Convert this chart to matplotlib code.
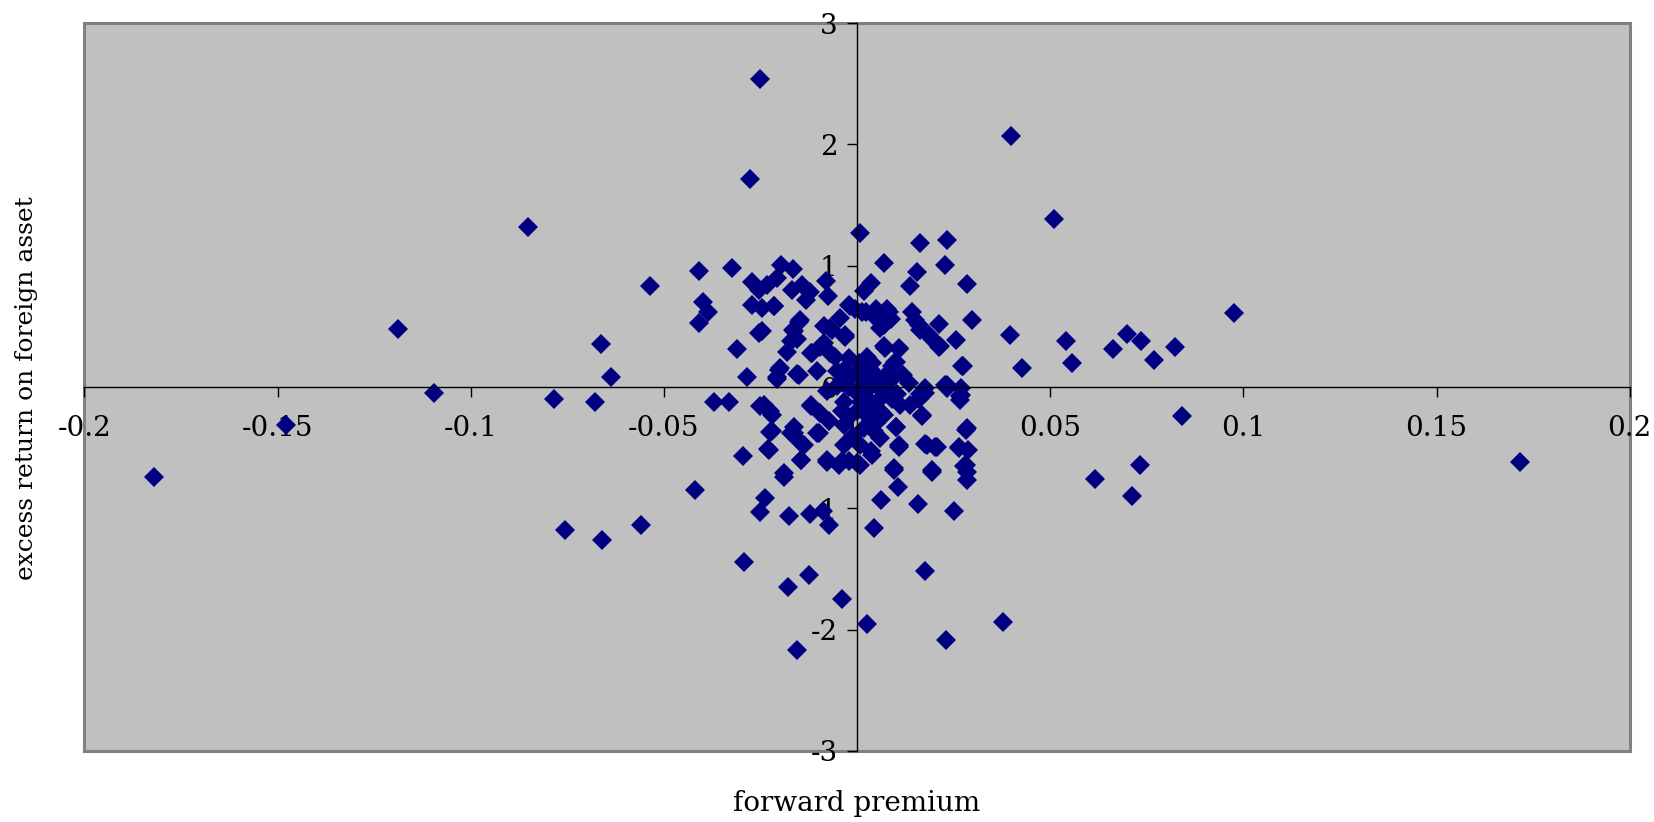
import matplotlib

matplotlib.use("Agg")
import matplotlib.pyplot as plt
import numpy as np

# forward premium (x) and excess return on foreign asset (y)
fwd_premium = [
    -0.1819, -0.1477, -0.1189, -0.1096, -0.0852, -0.0784, -0.0679, -0.0663, -0.0638, -0.0757,
    -0.0659, 0.0977, 0.0699, 0.0662, 0.0736, 0.0770, 0.0824, 0.0840, 0.0615, 0.0733,
    0.0712, 0.1717, 0.0378, 0.0230, 0.0176, 0.0026, -0.0039, -0.0155, -0.0124, -0.0178,
    -0.0293, -0.0559, -0.0419, -0.0239, -0.0252, -0.0175, -0.0122, -0.0088, -0.0073, 0.0044,
    0.0061, 0.0158, 0.0252, 0.0107, 0.0095, 0.0193, 0.0285, 0.0285, 0.0283, 0.0288,
    0.0264, 0.0283, 0.0201, 0.0177, 0.0108, 0.0101, 0.0169, 0.0266, 0.0039, 0.0000,
    -0.0038, -0.0077, -0.0144, -0.0188, -0.0296, -0.0230, -0.0224, -0.0250, -0.0221, -0.0332,
    -0.0371, -0.0172, -0.0164, -0.0138, -0.0103, -0.0120,
    -0.0252, -0.0277, 0.0399, 0.0509, 0.0007, 0.0162, 0.0233, 0.0229, 0.0069, 0.0285,
    0.0154, 0.0138, -0.0537, -0.0409, -0.0323, -0.0398, -0.0386, -0.0408, -0.0254, -0.0310,
    -0.0284, -0.0197, -0.0165, -0.0273, -0.0254, -0.0232, -0.0207, -0.0271, -0.0245, -0.0215,
    -0.0168, -0.0142, -0.0121, -0.0131, -0.0080, -0.0075, -0.0148, -0.0165, -0.0155, -0.0172,
    -0.0181, -0.0200, -0.0207, -0.0155, -0.0120, -0.0086, -0.0064, -0.0045, -0.0030, -0.0095,
    -0.0069, -0.0021, -0.0004, 0.0018, 0.0035, 0.0048, 0.0078, 0.0065, 0.0059, 0.0087,
    0.0143, 0.0151, 0.0162, 0.0212, 0.0298, 0.0195, 0.0212, 0.0255, 0.0275, 0.0395,
    0.0426, 0.0542, 0.0557, 0.0073, 0.0108, 0.0099, 0.0134, 0.0233, 0.0266, 0.0177,
    0.0160,
    -0.0216, -0.0017, 0.0022, -0.0069, -0.0030, -0.0151, -0.0164, -0.0245, -0.0116, -0.0086,
    -0.0056, -0.0021, 0.0005, -0.0202, -0.0206, -0.0150, -0.0103, -0.0051, -0.0012, 0.0017,
    -0.0035, 0.0082, 0.0048, 0.0069, 0.0013, 0.0160, 0.0186, 0.0216, 0.0272, 0.0069,
    0.0108, 0.0100, 0.0026, 0.0035, 0.0091, 0.0177, 0.0229, 0.0268,
    -0.0224, -0.0241, -0.0220, -0.0228, -0.0189, -0.0164, -0.0146, -0.0146, -0.0099, -0.0120,
    -0.0095, -0.0073, -0.0077, -0.0047, -0.0021, 0.0009, -0.0051, -0.0034, 0.0000, 0.0026,
    -0.0034, 0.0018, 0.0009, -0.0034, 0.0000, -0.0077, 0.0022, 0.0061, 0.0104, 0.0164,
    0.0138, 0.0233, 0.0268, 0.0169, 0.0100, 0.0044, 0.0035, 0.0108, 0.0182, 0.0208,
    0.0264, 0.0285, 0.0095, 0.0195, 0.0277, 0.0035, 0.0069, 0.0052,
    0.0000, 0.0020, 0.0040, 0.0060, 0.0080, -0.0020, 0.0010, 0.0030, -0.0020, 0.0050,
    0.0070, 0.0090, 0.0120, 0.0040, -0.0010, 0.0060,
    0.0020, 0.0060, 0.0080, -0.0030, 0.0110, 0.0040, 0.0090, -0.0040,
]
excess_return = [
    -0.745, -0.31, 0.48, -0.05, 1.32, -0.10, -0.12, 0.355, 0.087, -1.176,
    -1.26, 0.61, 0.437, 0.316, 0.38, 0.22, 0.33, -0.24, -0.756, -0.643,
    -0.90, -0.62, -1.94, -2.086, -1.52, -1.95, -1.75, -2.17, -1.55, -1.65,
    -1.44, -1.14, -0.85, -0.915, -1.03, -1.06, -1.05, -1.025, -1.14, -1.16,
    -0.93, -0.965, -1.025, -0.825, -0.68, -0.70, -0.765, -0.70, -0.64, -0.52,
    -0.49, -0.35, -0.49, -0.47, -0.49, -0.325, -0.23, -0.105, -0.56, -0.63,
    -0.61, -0.62, -0.60, -0.745, -0.57, -0.51, -0.37, -0.155, -0.23, -0.12,
    -0.12, -0.38, -0.33, -0.476, -0.38, -0.16,
    2.54, 1.715, 2.066, 1.385, 1.27, 1.187, 1.21, 1.01, 1.02, 0.85,
    0.95, 0.83, 0.835, 0.96, 0.98, 0.705, 0.62, 0.528, 0.445, 0.31,
    0.087, 1.01, 0.97, 0.87, 0.80, 0.84, 0.90, 0.68, 0.65, 0.67,
    0.80, 0.84, 0.78, 0.72, 0.876, 0.75, 0.555, 0.47, 0.40, 0.38,
    0.29, 0.155, 0.08, 0.11, 0.28, 0.505, 0.47, 0.57, 0.41, 0.33,
    0.28, 0.68, 0.64, 0.79, 0.86, 0.64, 0.64, 0.55, 0.49, 0.56,
    0.62, 0.55, 0.47, 0.52, 0.55, 0.40, 0.33, 0.39, 0.17, 0.43,
    0.16, 0.376, 0.20, 0.32, 0.32, 0.21, 0.03, 0.02, -0.07, -0.05,
    -0.10,
    0.665, 0.665, 0.62, 0.486, 0.43, 0.54, 0.46, 0.46, 0.28, 0.36,
    0.25, 0.24, 0.20, 0.14, 0.07, 0.10, 0.13, 0.13, 0.09, 0.05,
    0.035, 0.62, 0.57, 0.51, 0.62, 0.51, 0.43, 0.335, 0.17, 0.335,
    0.31, 0.21, 0.25, 0.14, 0.07, -0.01, 0.02, -0.01,
    -0.20, -0.146, -0.366, -0.517, -0.71, -0.38, -0.46, -0.60, -0.38, -0.146,
    -0.21, -0.28, -0.60, -0.64, -0.61, -0.64, 0.005, -0.12, -0.20, -0.09,
    -0.31, -0.34, -0.476, -0.476, -0.05, -0.036, -0.036, -0.02, -0.06, -0.06,
    -0.146, -0.01, -0.063, -0.24, -0.325, -0.366, -0.53, -0.476, -0.476, -0.49,
    -0.50, -0.34, -0.67, -0.68, -0.65, -0.20, -0.23, -0.12,
    0.10, 0.15, 0.10, 0.05, 0.12, 0.00, -0.12, -0.25, -0.25, -0.30,
    0.00, -0.10, 0.10, 0.20, -0.40, -0.42,
    -0.15, -0.20, -0.05, 0.15, -0.15, 0.05, 0.17, -0.20,
]

x_ticks = [-0.2, -0.15, -0.1, -0.05, 0, 0.05, 0.1, 0.15, 0.2]
x_labels = ["-0.2", "-0.15", "-0.1", "-0.05", "0", "0.05", "0.1", "0.15", "0.2"]
y_ticks = [-3, -2, -1, 0, 1, 2, 3]
y_labels = ["-3", "-2", "-1", "0", "1", "2", "3"]

plt.rcParams["font.family"] = ["DejaVu Serif"]

fig = plt.figure(figsize=(16.54, 8.22), dpi=100)
ax = fig.add_axes([0.051, 0.0864, 0.9343, 0.8854])
ax.set_facecolor("#c0c0c0")
ax.patch.set_edgecolor("#808080")
ax.patch.set_linewidth(2.2)

ax.plot(np.array(fwd_premium), np.array(excess_return), linestyle="none",
        marker="D", markersize=10.5, color="#000080", markeredgewidth=0)

ax.set_xlim(-0.2, 0.2)
ax.set_ylim(-3, 3)

for side in ("top", "right"):
    ax.spines[side].set_visible(False)
ax.spines["left"].set_position(("data", 0))
ax.spines["bottom"].set_position(("data", 0))
ax.spines["left"].set_linewidth(1.0)
ax.spines["bottom"].set_linewidth(1.0)

ax.set_xticks(x_ticks)
ax.set_xticklabels(x_labels)
ax.set_yticks(y_ticks)
ax.set_yticklabels(y_labels)
ax.tick_params(axis="x", direction="out", length=7, width=1, pad=13, labelsize=20)
ax.tick_params(axis="y", direction="out", length=7, width=1, pad=7, labelsize=20)

fig.text(0.5178, 0.022, "forward premium", ha="center", va="center", fontsize=20)
fig.text(0.016, 0.5283, "excess return on foreign asset", ha="center", va="center",
         rotation=90, fontsize=18)

fig.savefig("out.png", dpi=100)
